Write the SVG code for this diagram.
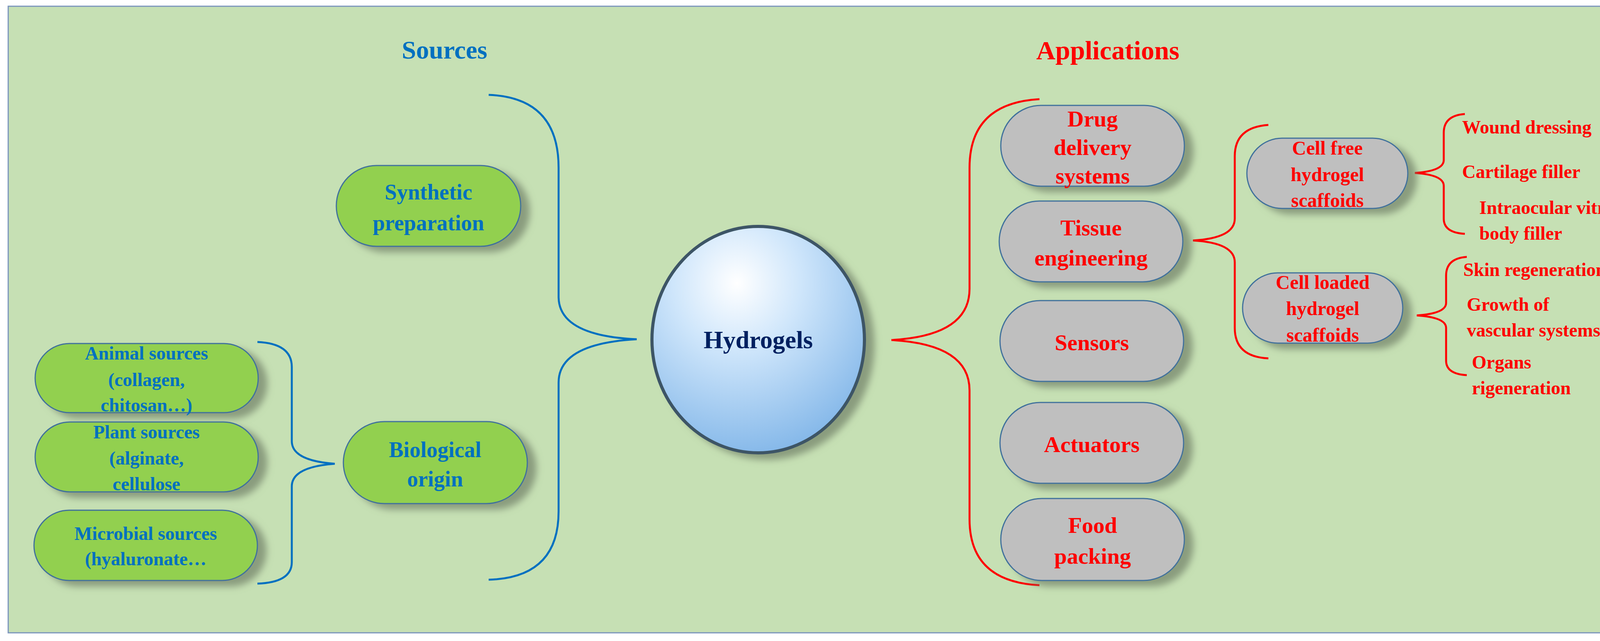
<svg xmlns="http://www.w3.org/2000/svg" width="4322" height="1642" viewBox="0 0 4322 1642">
<style>
.t{font-family:"Liberation Serif",serif;font-weight:bold;text-anchor:middle}
.b{fill:#0070C0}.r{fill:#FF0000}
.gp{fill:#92D050;stroke:#41719C;stroke-width:3;filter:url(#sh)}
.yp{fill:#BFBFBF;stroke:#41719C;stroke-width:3;filter:url(#sh)}
.bl{fill:none;stroke:#0070C0;stroke-width:5}
.rl{fill:none;stroke:#FF0000;stroke-width:5}
</style>
<defs>
<filter id="sh" x="-10%" y="-10%" width="130%" height="140%"><feDropShadow dx="22" dy="14" stdDeviation="9" flood-color="#6f7f66" flood-opacity="0.7"/></filter>
<radialGradient id="cg" cx="0.4" cy="0.25" r="0.85"><stop offset="0" stop-color="#ffffff"/><stop offset="0.35" stop-color="#cfe6fb"/><stop offset="1" stop-color="#78b0e6"/></radialGradient>
</defs>
<rect x="21" y="16" width="4279" height="1605" fill="#C6E0B4" stroke="#7b95bd" stroke-width="3"/>
<text class="t b" x="1138" y="150" font-size="66">Sources</text>
<text class="t r" x="2836" y="152" font-size="68">Applications</text>
<g id="connectors">
<path class="bl" d="M1251 243 Q1430 250 1430 430 L1430 760 Q1430 860 1630 869 Q1430 880 1430 980 L1430 1310 Q1430 1480 1251 1485"/>
<path class="bl" d="M659 876 Q747 880 747 940 L747 1130 Q747 1180 857 1188 Q747 1196 747 1246 L747 1440 Q747 1492 659 1495"/>
<path class="rl" d="M2661 254 Q2482 264 2482 430 L2482 740 Q2482 860 2282 871 Q2482 882 2482 1000 L2482 1330 Q2482 1490 2661 1499"/>
<path class="rl" d="M3247 320 Q3161 326 3161 400 L3161 560 Q3161 610 3054 616 Q3161 622 3161 672 L3161 840 Q3161 914 3247 918"/>
<path class="rl" d="M3750 292 Q3696 296 3696 340 L3696 410 Q3696 438 3622 443 Q3696 448 3696 476 L3696 560 Q3696 596 3750 599"/>
<path class="rl" d="M3755 658 Q3702 662 3702 706 L3702 776 Q3702 803 3627 808 Q3702 813 3702 840 L3702 924 Q3702 958 3755 961"/>
</g>
<g id="synthetic"><rect class="gp" x="861" y="424" width="472" height="207" rx="103"/>
<text class="t b" font-size="56" x="1097" y="511">Synthetic</text><text class="t b" font-size="56" x="1097" y="590">preparation</text></g>
<g id="biological"><rect class="gp" x="879" y="1080" width="471" height="210" rx="105"/>
<text class="t b" font-size="56" x="1114" y="1171">Biological</text><text class="t b" font-size="56" x="1114" y="1246">origin</text></g>
<g id="animal"><rect class="gp" x="90" y="880" width="571" height="177" rx="88"/>
<text class="t b" font-size="48" x="375" y="921">Animal sources</text><text class="t b" font-size="48" x="375" y="989">(collagen,</text><text class="t b" font-size="48" x="375" y="1054">chitosan…)</text></g>
<g id="plant"><rect class="gp" x="90" y="1081" width="571" height="179" rx="89"/>
<text class="t b" font-size="48" x="375" y="1123">Plant sources</text><text class="t b" font-size="48" x="375" y="1190">(alginate,</text><text class="t b" font-size="48" x="375" y="1256">cellulose</text></g>
<g id="microbial"><rect class="gp" x="87" y="1307" width="572" height="180" rx="90"/>
<text class="t b" font-size="48" x="373" y="1383">Microbial sources</text><text class="t b" font-size="48" x="373" y="1448">(hyaluronate…</text></g>
<g id="hydrogels"><ellipse cx="1941" cy="870" rx="272" ry="290" fill="url(#cg)" stroke="#3d5566" stroke-width="8" filter="url(#sh)"/>
<text class="t" font-size="64" x="1941" y="892" fill="#002060">Hydrogels</text></g>
<g id="drug"><rect class="yp" x="2562" y="270" width="470" height="207" rx="103"/>
<text class="t r" font-size="58" x="2797" y="324">Drug</text><text class="t r" font-size="58" x="2797" y="397">delivery</text><text class="t r" font-size="58" x="2797" y="470">systems</text></g>
<g id="tissue"><rect class="yp" x="2558" y="515" width="470" height="207" rx="103"/>
<text class="t r" font-size="58" x="2793" y="603">Tissue</text><text class="t r" font-size="58" x="2793" y="680">engineering</text></g>
<g id="sensors"><rect class="yp" x="2560" y="770" width="470" height="207" rx="103"/>
<text class="t r" font-size="58" x="2795" y="897">Sensors</text></g>
<g id="actuators"><rect class="yp" x="2560" y="1031" width="470" height="207" rx="103"/>
<text class="t r" font-size="58" x="2795" y="1158">Actuators</text></g>
<g id="food"><rect class="yp" x="2562" y="1277" width="470" height="210" rx="105"/>
<text class="t r" font-size="58" x="2797" y="1365">Food</text><text class="t r" font-size="58" x="2797" y="1444">packing</text></g>
<g id="cellfree"><rect class="yp" x="3192" y="354" width="412" height="180" rx="90"/>
<text class="t r" font-size="50" x="3398" y="396">Cell free</text><text class="t r" font-size="50" x="3398" y="464">hydrogel</text><text class="t r" font-size="50" x="3398" y="530">scaffoids</text></g>
<g id="cellloaded"><rect class="yp" x="3181" y="699" width="410" height="180" rx="90"/>
<text class="t r" font-size="50" x="3386" y="740">Cell loaded</text><text class="t r" font-size="50" x="3386" y="807">hydrogel</text><text class="t r" font-size="50" x="3386" y="875">scaffoids</text></g>
<g id="leaves" class="t r" font-size="48" style="text-anchor:start">
<text x="3743" y="342">Wound dressing</text>
<text x="3743" y="456">Cartilage  filler</text>
<text x="3787" y="548">Intraocular vitrous</text>
<text x="3787" y="614">body filler</text>
<text x="3746" y="707">Skin regeneration</text>
<text x="3755" y="796">Growth of</text>
<text x="3755" y="862">vascular systems</text>
<text x="3768" y="944">Organs</text>
<text x="3768" y="1010">rigeneration</text>
</g>
</svg>
